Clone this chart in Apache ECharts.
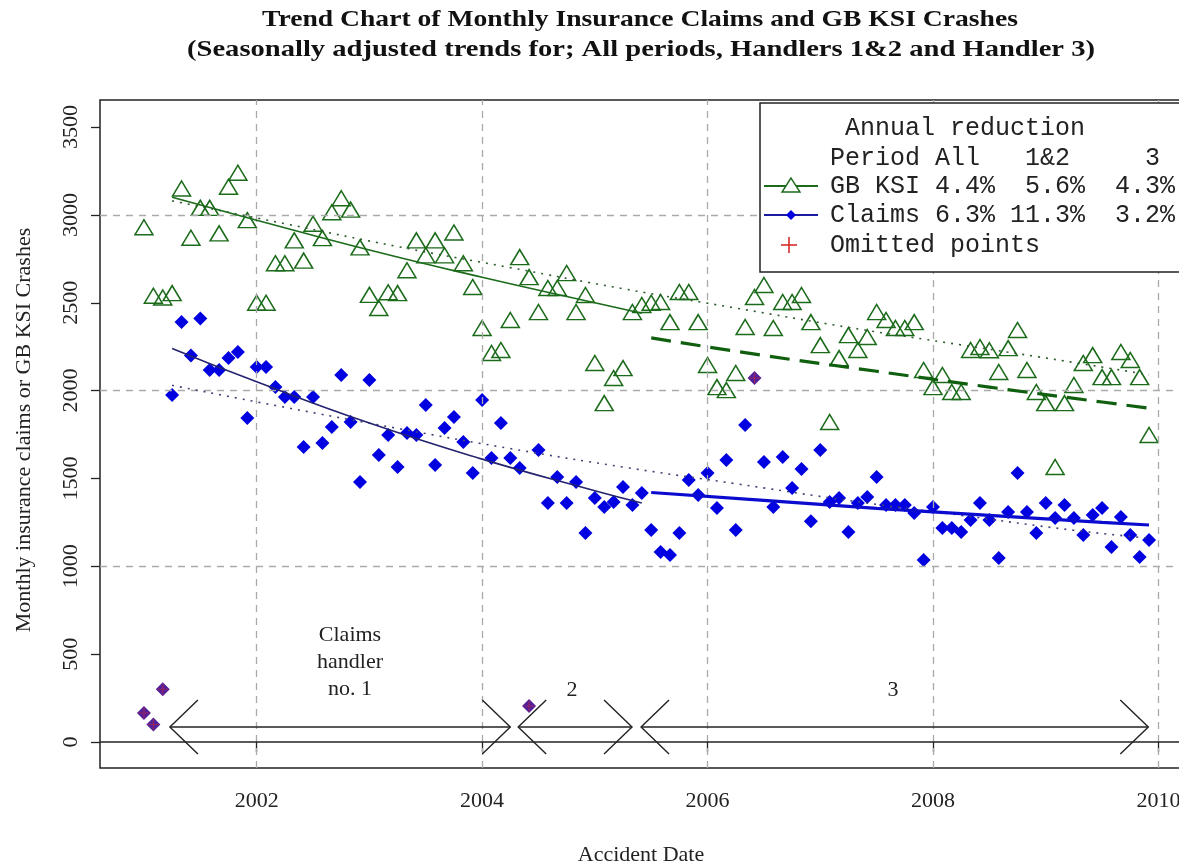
<!DOCTYPE html>
<html>
<head>
<meta charset="utf-8">
<title>Monthly insurance claims and GB KSI crashes</title>
<script src="https://cdn.jsdelivr.net/npm/echarts@6/dist/echarts.min.js"></script>
<style>
  html, body { margin: 0; padding: 0; background: #fff; overflow: hidden; }
  #chart { width: 1200px; height: 868px; }
</style>
</head>
<body>
<div id="chart"></div>
<script>
  // monthly series, index 0 = Jan 2001 ... 107 = Dec 2009
  var startYear = 2001
  var ksi = [2930, 2540, 2530, 2555, 3150, 2870, 3040, 3040, 2895, 3160, 3240, 2970,
    2500, 2500, 2725, 2725, 2855, 2740, 2950, 2868, 3015, 3095, 3030, 2815,
    2545, 2470, 2560, 2555, 2685, 2855, 2770, 2855, 2770, 2900, 2725, 2590,
    2356, 2214, 2231, 2402, 2760, 2646, 2447, 2584, 2584, 2669, 2447, 2544,
    2157, 1929, 2072, 2128, 2447, 2487, 2500, 2504, 2390, 2561, 2561, 2390,
    2146, 2020, 2003, 2100, 2362, 2533, 2601, 2356, 2504, 2504, 2544, 2390,
    2259, 1821, 2185, 2316, 2231, 2305, 2447, 2402, 2356, 2356, 2390, 2117,
    2020, 2089, 1992, 1992, 2231, 2248, 2230, 2106, 2242, 2345, 2117, 1992,
    1929, 1565, 1929, 2032, 2157, 2202, 2077, 2077, 2220, 2174, 2077, 1747]
  var claims = [null, null, null, 1975, 2390, 2200, 2410, 2117, 2117, 2185, 2220, 1844,
    2134, 2134, 2020, 1963, 1963, 1679, 1963, 1702, 1793, 2089, 1821, 1480,
    2060, 1633, 1747, 1565, 1759, 1747, 1918, 1576, 1787, 1850, 1707, 1531,
    1946, 1616, 1815, 1616, 1559, null, 1662, 1360, 1508, 1360, 1480, 1189,
    1389, 1337, 1366, 1451, 1349, 1417, 1206, 1081, 1064, 1189, 1491, 1406,
    1531, 1332, 1605, 1206, 1804, null, 1594, 1337, 1622, 1446, 1554, 1257,
    1662, 1366, 1389, 1195, 1360, 1394, 1508, 1349, 1349, 1349, 1303, 1036,
    1337, 1218, 1218, 1195, 1263, 1360, 1263, 1047, 1309, 1531, 1309, 1189,
    1360, 1275, 1349, 1275, 1178, 1292, 1332, 1110, 1280, 1178, 1053, 1150]
  // claims months left out of the fits: [month index, value]
  var omitted = [[0, 165], [1, 100], [2, 300], [41, 205], [65, 2072]]

  // fitted trends: [month index, value]
  var ksiAll = [[3, 3080], [15, 2950], [27, 2820], [39, 2700], [51, 2580], [63, 2470], [75, 2360], [87, 2260], [99, 2160], [107, 2090]]
  var ksi12 = [[3, 3100], [12, 2970], [24, 2800], [36, 2645], [48, 2500], [53, 2440]]
  var ksi3 = [[54, 2300], [66, 2200], [78, 2110], [90, 2020], [102, 1935], [107, 1900]]
  var claimsAll = [[3, 2030], [15, 1905], [27, 1785], [39, 1670], [51, 1565], [63, 1470], [75, 1375], [87, 1290], [99, 1205], [107, 1160]]
  var claims12 = [[3, 2240], [12, 2050], [24, 1815], [36, 1610], [48, 1430], [53, 1360]]
  var claims3 = [[54, 1420], [66, 1375], [78, 1330], [90, 1290], [102, 1250], [107, 1235]]

  var xTicks = [2002, 2004, 2006, 2008, 2010]
  var yTicks = [0, 500, 1000, 1500, 2000, 2500, 3000, 3500]
  var xGrid = [2002, 2004, 2006, 2008, 2010]
  var yGrid = [1000, 2000, 3000]
  // claims handler periods: [from, to, arrow level]
  var handlers = [[2001.23, 2004.25, 85], [2004.32, 2005.33, 85], [2005.41, 2009.91, 85]]

  var green = '#1b6b1b', blue = '#0000e0'
  var serif = '"Liberation Serif", "DejaVu Serif", serif'
  var mono = '"Liberation Mono", "DejaVu Sans Mono", monospace'

  function toDate(i) { return startYear + i / 12 }
  function pts(list) { return list.map(function (p) { return [toDate(p[0]), p[1]] }) }
  function monthly(arr) {
    var out = []
    arr.forEach(function (v, i) { if (v != null) out.push([toDate(i), v]) })
    return out
  }
  function trend(name, data, color, width, type, z) {
    return {
      name: name, type: 'line', data: pts(data), smooth: true, showSymbol: false,
      lineStyle: {color: color, width: width, type: type}, z: z, silent: true
    }
  }

  var chart = echarts.init(document.getElementById('chart'))
  var plusPath = 'path://M9,0h2v9h9v2h-9v9h-2v-9h-9v-2h9z'

  var option = {
    animation: false,
    backgroundColor: '#fff',
    grid: {left: 100, top: 100, width: 1090, height: 668, show: true, borderColor: '#222', borderWidth: 1.5, backgroundColor: '#fff'},
    xAxis: {
      type: 'value', min: 2000.61, max: 2010.28,
      axisLine: {show: false},
      splitLine: {show: false},
      axisTick: {show: true, length: 10, customValues: xTicks, lineStyle: {color: '#222', width: 1.3}},
      axisLabel: {customValues: xTicks, margin: 22, fontFamily: serif, fontSize: 22, color: '#222',
        formatter: function (v) { return String(v) }}
    },
    yAxis: {
      type: 'value', min: -148, max: 3654,
      axisLine: {show: false},
      splitLine: {show: false},
      axisTick: {show: true, length: 9, customValues: yTicks, lineStyle: {color: '#222', width: 1.3}},
      axisLabel: {customValues: yTicks, rotate: 90, margin: 18, fontFamily: serif, fontSize: 22, color: '#222',
        formatter: function (v) { return String(v) }}
    },
    series: [
      {
        type: 'line', data: [], z: 1, silent: true,
        markLine: {
          silent: true, symbol: 'none', label: {show: false}, animation: false,
          lineStyle: {color: '#aaa', width: 1.3, type: [7, 6]},
          data: xGrid.map(function (v) { return {xAxis: v} })
            .concat(yGrid.map(function (v) { return {yAxis: v} }))
            .concat([{yAxis: 0, lineStyle: {color: '#222', width: 1.6, type: 'solid'}}])
        }
      },
      {
        name: 'GB KSI', type: 'scatter', data: monthly(ksi), z: 3,
        symbol: 'triangle', symbolSize: [18, 15],
        itemStyle: {color: 'rgba(0,0,0,0)', borderColor: green, borderWidth: 1.5, opacity: 1}
      },
      {
        name: 'Claims', type: 'scatter', data: monthly(claims), z: 3,
        symbol: 'diamond', symbolSize: 14, itemStyle: {color: blue, opacity: 1}
      },
      {
        name: 'Omitted', type: 'scatter', data: pts(omitted), z: 4,
        symbol: 'diamond', symbolSize: 14, itemStyle: {color: '#52209a', opacity: 1}
      },
      {
        name: 'Omitted plus', type: 'scatter', data: pts(omitted), z: 5,
        symbol: plusPath, symbolSize: 11, itemStyle: {color: '#c8283a', opacity: 0.6}
      },
      trend('GB KSI all', ksiAll, '#2f5a2f', 1.6, [2, 6], 6),
      trend('GB KSI 1&2', ksi12, green, 1.6, 'solid', 6),
      trend('GB KSI 3', ksi3, '#0f5f0f', 3.2, [20, 10], 6),
      trend('Claims all', claimsAll, '#404078', 1.6, [2, 6], 6),
      trend('Claims 1&2', claims12, '#232370', 1.6, 'solid', 6),
      trend('Claims 3', claims3, '#0b0bd0', 3.2, 'solid', 6),
      {
        type: 'custom', data: handlers, encode: {x: [0, 1], y: 2}, z: 7, silent: true,
        renderItem: function (params, api) {
          var a = api.coord([api.value(0), api.value(2)])
          var b = api.coord([api.value(1), api.value(2)])
          var hx = 28, hy = 27
          var st = {stroke: '#222', lineWidth: 1.4, fill: null}
          return {
            type: 'group', children: [
              {type: 'line', shape: {x1: a[0], y1: a[1], x2: b[0], y2: b[1]}, style: st},
              {type: 'polyline', shape: {points: [[a[0] + hx, a[1] - hy], a, [a[0] + hx, a[1] + hy]]}, style: st},
              {type: 'polyline', shape: {points: [[b[0] - hx, b[1] - hy], b, [b[0] - hx, b[1] + hy]]}, style: st}
            ]
          }
        }
      }
    ],
    graphic: [
      // titles
      {type: 'text', x: 640, y: 20, scaleX: 1.15, style: {text: 'Trend Chart of Monthly Insurance Claims and GB KSI Crashes',
        font: 'bold 24px ' + serif, fill: '#111', align: 'center', verticalAlign: 'middle'}},
      {type: 'text', x: 641, y: 50, scaleX: 1.19, style: {text: '(Seasonally adjusted trends for; All periods, Handlers 1&2 and Handler 3)',
        font: 'bold 24px ' + serif, fill: '#111', align: 'center', verticalAlign: 'middle'}},
      // axis names
      {type: 'text', x: 641, y: 855, style: {text: 'Accident Date', font: '22px ' + serif, fill: '#222', align: 'center', verticalAlign: 'middle'}},
      {type: 'text', x: 24, y: 430, rotation: Math.PI / 2, style: {text: 'Monthly insurance claims or GB KSI Crashes',
        font: '22px ' + serif, fill: '#222', align: 'center', verticalAlign: 'middle'}},
      // handler labels
      {type: 'text', x: 350, y: 662, style: {text: 'Claims\nhandler\nno. 1', font: '22px ' + serif, lineHeight: 27,
        fill: '#222', align: 'center', verticalAlign: 'middle'}},
      {type: 'text', x: 572, y: 690, style: {text: '2', font: '22px ' + serif, fill: '#222', align: 'center', verticalAlign: 'middle'}},
      {type: 'text', x: 893, y: 690, style: {text: '3', font: '22px ' + serif, fill: '#222', align: 'center', verticalAlign: 'middle'}},
      // legend box
      {type: 'rect', z: 50, shape: {x: 760, y: 103, width: 500, height: 169}, style: {fill: '#fff', stroke: '#222', lineWidth: 1.5}},
      {type: 'text', z: 51, x: 830, y: 128, style: {text: ' Annual reduction', font: '25px ' + mono, fill: '#222', verticalAlign: 'middle'}},
      {type: 'text', z: 51, x: 830, y: 158, style: {text: 'Period All   1&2     3', font: '25px ' + mono, fill: '#222', verticalAlign: 'middle'}},
      {type: 'text', z: 51, x: 830, y: 186, style: {text: 'GB KSI 4.4%  5.6%  4.3%', font: '25px ' + mono, fill: '#222', verticalAlign: 'middle'}},
      {type: 'text', z: 51, x: 830, y: 215, style: {text: 'Claims 6.3% 11.3%  3.2%', font: '25px ' + mono, fill: '#222', verticalAlign: 'middle'}},
      {type: 'text', z: 51, x: 830, y: 245, style: {text: 'Omitted points', font: '25px ' + mono, fill: '#222', verticalAlign: 'middle'}},
      {type: 'line', z: 51, shape: {x1: 764, y1: 186, x2: 818, y2: 186}, style: {stroke: green, lineWidth: 2.2}},
      {type: 'polygon', z: 52, shape: {points: [[791, 178], [782, 192], [800, 192]]}, style: {fill: '#fff', stroke: green, lineWidth: 1.4}},
      {type: 'line', z: 51, shape: {x1: 764, y1: 215, x2: 818, y2: 215}, style: {stroke: '#1a1aa0', lineWidth: 2.2}},
      {type: 'polygon', z: 52, shape: {points: [[791, 210], [796, 215], [791, 220], [786, 215]]}, style: {fill: blue}},
      {type: 'line', z: 51, shape: {x1: 781, y1: 245, x2: 797, y2: 245}, style: {stroke: '#d42a2a', lineWidth: 1.6}},
      {type: 'line', z: 51, shape: {x1: 789, y1: 237, x2: 789, y2: 253}, style: {stroke: '#d42a2a', lineWidth: 1.6}}
    ]
  }
  chart.setOption(option)
</script>
</body>
</html>
